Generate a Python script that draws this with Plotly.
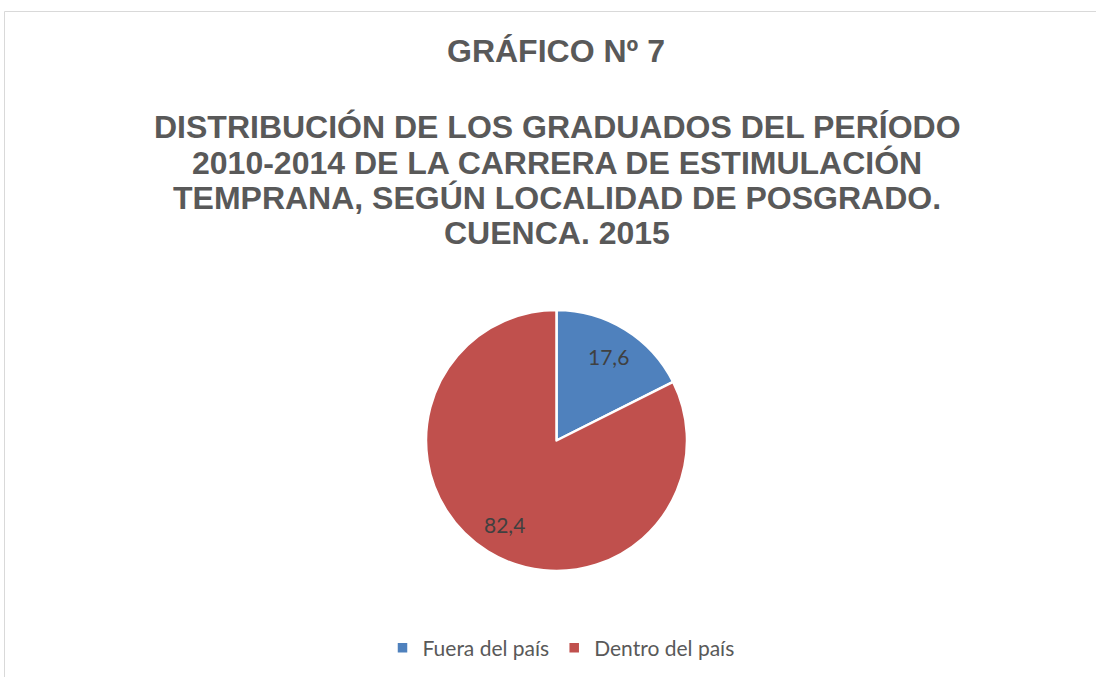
import math
import plotly.graph_objects as go

categories = ["Fuera del país", "Dentro del país"]
values = [17.6, 82.4]
value_labels = ["17,6", "82,4"]
colors = ["#4F81BD", "#C0504D"]
title_top = "GRÁFICO Nº 7"
title_lines = [
    "DISTRIBUCIÓN DE LOS GRADUADOS DEL PERÍODO",
    "2010-2014 DE LA CARRERA DE ESTIMULACIÓN",
    "TEMPRANA, SEGÚN LOCALIDAD DE POSGRADO.",
    "CUENCA. 2015",
]

W, H = 1096, 677
cx, cy, r = 556.5, 440.5, 130.5

fig = go.Figure()
fig.add_trace(go.Pie(
    labels=categories, values=values,
    textinfo="none",
    sort=False, direction="clockwise", rotation=0,
    marker=dict(colors=colors, line=dict(color="white", width=2.5)),
    domain=dict(x=[(cx - r) / W, (cx + r) / W], y=[(H - cy - r) / H, (H - cy + r) / H]),
    hoverinfo="label+value",
))

# data labels placed along each slice's mid-angle (Excel "best fit" style)
total = sum(values)
start = 0.0
for v, lab in zip(values, value_labels):
    mid = (start + v / 2) / total * 2 * math.pi  # clockwise from 12 o'clock
    start += v
    px = cx + 0.76 * r * math.sin(mid)
    py = cy - 0.76 * r * math.cos(mid)
    fig.add_annotation(text=lab, x=px / W, y=1 - py / H, xref="paper", yref="paper",
                       showarrow=False, xanchor="center", yanchor="middle",
                       font=dict(family="Lato", size=21, color="#404040"))

title_font = dict(family="Liberation Sans", size=32, color="#595959")
fig.add_annotation(text="<b>" + title_top + "</b>", x=556 / W, y=1 - 51 / H, xref="paper", yref="paper",
                   showarrow=False, font=title_font, xanchor="center", yanchor="middle")
for i, line in enumerate(title_lines):
    ypix = 127.5 + i * 35.2
    fig.add_annotation(text="<b>" + line + "</b>", x=557 / W, y=1 - ypix / H, xref="paper", yref="paper",
                       showarrow=False, font=title_font, xanchor="center", yanchor="middle")

fig.add_shape(type="rect", xref="paper", yref="paper", x0=4.5 / W, x1=1.02, y0=-0.02, y1=1 - 11.5 / H,
              line=dict(color="#D9D9D9", width=1), fillcolor="rgba(0,0,0,0)", layer="below")

fig.update_layout(
    width=W, height=H, margin=dict(l=0, r=0, t=0, b=0),
    paper_bgcolor="white", plot_bgcolor="white",
    showlegend=True,
    legend=dict(orientation="h", x=561 / W, xanchor="center", y=1 - 648 / H, yanchor="middle",
                itemwidth=30,
                font=dict(family="Lato", size=21, color="#595959")),
)
fig.write_html("out.html", config={"displayModeBar": False},
               post_script="document.body.style.margin='0';document.body.style.overflow='hidden';")
